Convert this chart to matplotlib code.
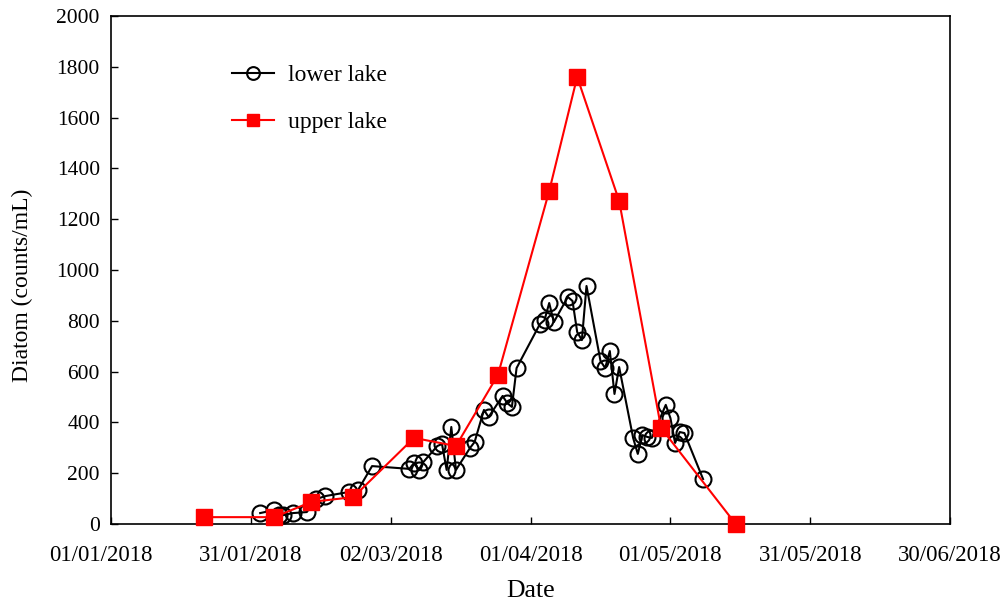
import matplotlib
matplotlib.use("Agg")
import matplotlib.pyplot as plt
import matplotlib.dates as mdates
from matplotlib.transforms import ScaledTranslation
import numpy as np

lower_dates = ["2018-02-02", "2018-02-05", "2018-02-06", "2018-02-07", "2018-02-09",
               "2018-02-12", "2018-02-14", "2018-02-16", "2018-02-21", "2018-02-23",
               "2018-02-26", "2018-03-06", "2018-03-07", "2018-03-08", "2018-03-09",
               "2018-03-12", "2018-03-13", "2018-03-14", "2018-03-15", "2018-03-16",
               "2018-03-19", "2018-03-20", "2018-03-22", "2018-03-23", "2018-03-26",
               "2018-03-27", "2018-03-28", "2018-03-29", "2018-04-03", "2018-04-04",
               "2018-04-05", "2018-04-06", "2018-04-09", "2018-04-10", "2018-04-11",
               "2018-04-12", "2018-04-13", "2018-04-16", "2018-04-17", "2018-04-18",
               "2018-04-19", "2018-04-20", "2018-04-23", "2018-04-24", "2018-04-25",
               "2018-04-26", "2018-04-27", "2018-04-30", "2018-05-01", "2018-05-02",
               "2018-05-03", "2018-05-04", "2018-05-08"]
lower_values = [43, 55, 35, 35, 43,
                47, 98, 110, 126, 134,
                228, 217, 240, 213, 244,
                307, 315, 213, 382, 213,
                299, 323, 449, 421, 504,
                476, 461, 614, 787, 803,
                870, 795, 894, 878, 756,
                724, 937, 642, 614, 681,
                512, 618, 339, 276, 350,
                343, 339, 469, 417, 319,
                362, 358, 177]

upper_dates = ["2018-01-21", "2018-02-05", "2018-02-13", "2018-02-22", "2018-03-07",
               "2018-03-16", "2018-03-25", "2018-04-05", "2018-04-11", "2018-04-20",
               "2018-04-29", "2018-05-15"]
upper_values = [27, 27, 87, 106, 339, 307, 587, 1311, 1760, 1272, 378, 0]

tick_dates = ["2018-01-01", "2018-01-31", "2018-03-02", "2018-04-01",
              "2018-05-01", "2018-05-31", "2018-06-30"]
y_ticks = [0, 200, 400, 600, 800, 1000, 1200, 1400, 1600, 1800, 2000]

plt.rcParams['font.family'] = ['Liberation Serif', 'DejaVu Serif']
plt.rcParams['font.size'] = 15

fig = plt.figure(figsize=(10.08, 6.03), dpi=100)
ax = fig.add_axes([0.1101, 0.131, 0.8325, 0.8425])

ld = np.array(lower_dates, dtype='datetime64[D]')
ud = np.array(upper_dates, dtype='datetime64[D]')
td = np.array(tick_dates, dtype='datetime64[D]')

ax.plot(ld, lower_values, color='black', lw=1.5, marker='o', markersize=11.5,
        markerfacecolor='none', markeredgecolor='black', markeredgewidth=1.5,
        label='lower lake', zorder=3)
ax.plot(ud, upper_values, color='#ff0000', lw=1.5, marker='s', markersize=11,
        markerfacecolor='#ff0000', markeredgecolor='#ff0000',
        label='upper lake', zorder=4, clip_on=False)

ax.set_xlim(td[0], td[-1])
ax.set_ylim(0, 2000)
ax.set_xticks(td)
ax.xaxis.set_major_formatter(mdates.DateFormatter('%d/%m/%Y'))
ax.set_yticks(y_ticks)
ax.tick_params(axis='both', direction='in', length=5, width=1, top=False, right=False)
ax.tick_params(axis='x', pad=15, labelsize=16.5)
ax.tick_params(axis='y', pad=8, labelsize=15.5)
for s in ax.spines.values():
    s.set_linewidth(1.2)

labels = ax.get_xticklabels()
labels[0].set_transform(labels[0].get_transform() +
                        ScaledTranslation(-0.10, 0, fig.dpi_scale_trans))

ax.set_xlabel('Date', fontsize=18.5, labelpad=10)
ax.set_ylabel('Diatom (counts/mL)', fontsize=17)
ax.yaxis.set_label_coords(-0.093, 0.47)

leg = ax.legend(loc='upper left', bbox_to_anchor=(0.144, 0.905), frameon=False,
                fontsize=17, labelspacing=1.1, handlelength=1.8, handletextpad=0.6,
                markerscale=0.8, borderpad=0, borderaxespad=0)

fig.savefig('out.png', dpi=100)
